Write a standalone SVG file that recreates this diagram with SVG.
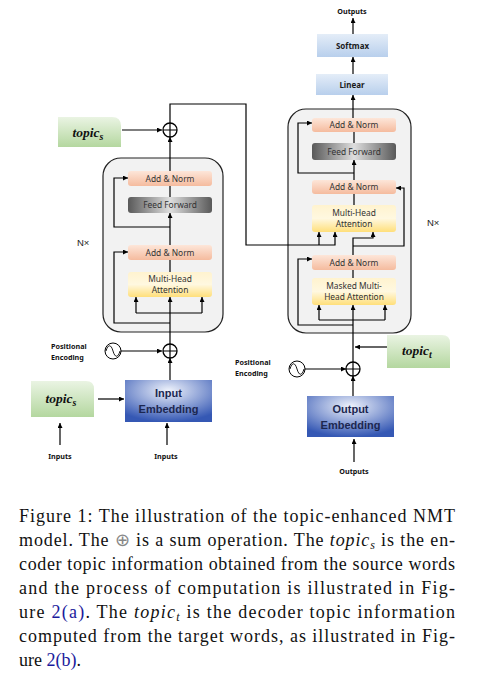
<svg xmlns="http://www.w3.org/2000/svg" width="480" height="682" viewBox="0 0 480 682">
<defs>
<style>
.ln{fill:none;stroke:#000;stroke-width:1.2}
.arr{fill:none;stroke:#000;stroke-width:1.2;marker-end:url(#ah)}
.box{fill:#f2f2f2;stroke:#222;stroke-width:1.2}
.t8{font-family:"Noto Sans","Liberation Sans",sans-serif;font-size:8.4px;fill:#333;text-anchor:middle}
.tb{font-family:"Noto Sans","Liberation Sans",sans-serif;font-size:7.2px;font-weight:bold;fill:#111}
.tl{font-family:"Noto Sans","Liberation Sans",sans-serif;font-size:8px;font-weight:bold;fill:#1a1a1a;text-anchor:middle}
.emb{font-family:"Liberation Sans",sans-serif;font-size:11px;font-weight:bold;fill:#1c2750;text-anchor:middle}
.top{font-family:"Liberation Serif",serif;font-size:13.5px;font-weight:bold;font-style:italic;fill:#111;text-anchor:middle}
.nx{font-family:"Liberation Sans",sans-serif;font-size:9.5px;fill:#222}
.cap{font-family:"Liberation Serif",serif;font-size:18px;fill:#111}
.lnk{fill:#1a1a9c}
.plus{fill:#fff;stroke:#000;stroke-width:1.3}
</style>
<marker id="ah" viewBox="0 0 6 6" refX="6" refY="3" markerWidth="5" markerHeight="5" markerUnits="userSpaceOnUse" orient="auto"><path d="M0,0 L6,3 L0,6 z" fill="#000"/></marker>
<linearGradient id="gAN" x1="0" y1="0" x2="0" y2="1"><stop offset="0" stop-color="#fde6d9"/><stop offset="1" stop-color="#f5bb9e"/></linearGradient>
<linearGradient id="gFF" x1="0" y1="0" x2="1" y2="0"><stop offset="0" stop-color="#595959"/><stop offset="0.5" stop-color="#dedede"/><stop offset="1" stop-color="#595959"/></linearGradient>
<linearGradient id="gMH" x1="0" y1="0" x2="0" y2="1"><stop offset="0" stop-color="#fff3cf"/><stop offset="0.5" stop-color="#fff8e0"/><stop offset="1" stop-color="#ffdf7a"/></linearGradient>
<linearGradient id="gLS" x1="0" y1="0" x2="0" y2="1"><stop offset="0" stop-color="#e4edf8"/><stop offset="1" stop-color="#b8cfec"/></linearGradient>
<linearGradient id="gTP" x1="0" y1="0" x2="0" y2="1"><stop offset="0" stop-color="#eaf4e3"/><stop offset="1" stop-color="#b4d79f"/></linearGradient>
<radialGradient id="gEM" cx="0.5" cy="0.25" r="0.75"><stop offset="0" stop-color="#eef2fb"/><stop offset="1" stop-color="#3558b4"/></radialGradient>
</defs>
<rect width="480" height="682" fill="#fff"/>

<g id="encoder">
<rect class="box" x="103" y="158" width="120" height="174" rx="18"/>
<text class="nx" x="77" y="246">N×</text>
</g>
<g id="decoder">
<rect class="box" x="288" y="109" width="123" height="224" rx="18"/>
<text class="nx" x="427" y="226">N×</text>
</g>

<g id="connectors">
<line class="arr" x1="170" y1="344" x2="170" y2="297"/>
<polyline class="ln" points="136,313 202,313"/>
<line class="arr" x1="136" y1="313" x2="136" y2="297"/>
<line class="arr" x1="202" y1="313" x2="202" y2="297"/>
<polyline class="arr" points="170,323 114,323 114,252 128,252"/>
<line class="ln" x1="170" y1="272" x2="170" y2="260"/>
<line class="arr" x1="170" y1="245" x2="170" y2="213"/>
<polyline class="arr" points="170,227 114,227 114,178 128,178"/>
<line class="ln" x1="170" y1="197" x2="170" y2="186"/>
<line class="arr" x1="170" y1="171" x2="170" y2="137"/>
<line class="arr" x1="122" y1="130" x2="162" y2="130"/>
<polyline class="arr" points="170,123 170,104 246,104 246,245 335,245 335,232"/>
<line class="arr" x1="319" y1="245" x2="319" y2="232"/>
<line class="arr" x1="121" y1="351" x2="162" y2="351"/>
<line class="arr" x1="170" y1="380" x2="170" y2="358"/>
<line class="arr" x1="98" y1="399" x2="124" y2="399"/>
<line class="arr" x1="60" y1="445" x2="60" y2="423"/>
<line class="arr" x1="167" y1="445" x2="167" y2="423"/>
<line class="arr" x1="353" y1="362" x2="353" y2="305"/>
<polyline class="ln" points="319,320 385,320"/>
<line class="arr" x1="319" y1="320" x2="319" y2="305"/>
<line class="arr" x1="385" y1="320" x2="385" y2="305"/>
<polyline class="arr" points="353,325 298,325 298,259 312,259"/>
<line class="ln" x1="353" y1="278" x2="353" y2="270"/>
<polyline class="arr" points="353,255 353,238 373,238 373,232"/>
<polyline class="arr" points="353,246 404,246 404,188 396,188"/>
<line class="ln" x1="354" y1="205" x2="354" y2="194"/>
<line class="arr" x1="354" y1="180" x2="354" y2="160"/>
<polyline class="arr" points="354,173 298,173 298,123 312,123"/>
<line class="ln" x1="354" y1="143" x2="354" y2="132"/>
<line class="arr" x1="353" y1="118" x2="353" y2="95"/>
<line class="arr" x1="353" y1="74" x2="353" y2="57"/>
<line class="arr" x1="353" y1="34" x2="353" y2="18"/>
<line class="arr" x1="387" y1="347" x2="355" y2="347"/>
<line class="arr" x1="305" y1="369" x2="346" y2="369"/>
<line class="arr" x1="353" y1="396" x2="353" y2="376"/>
<line class="arr" x1="354" y1="462" x2="354" y2="439"/>
</g>

<g id="enc-addnorm2"><rect x="128" y="171" width="84" height="15" rx="3" fill="url(#gAN)"/><text class="t8" x="170" y="181.5">Add &amp; Norm</text></g>
<g id="enc-ff"><rect x="128" y="197" width="84" height="16" rx="3" fill="url(#gFF)"/><text class="t8" x="170" y="208" fill="#222">Feed Forward</text></g>
<g id="enc-addnorm1"><rect x="128" y="245" width="84" height="15" rx="3" fill="url(#gAN)"/><text class="t8" x="170" y="255.5">Add &amp; Norm</text></g>
<g id="enc-mha"><rect x="128" y="272" width="84" height="25" rx="3" fill="url(#gMH)"/><text class="t8" x="170" y="282">Multi-Head</text><text class="t8" x="170" y="293">Attention</text></g>
<g id="enc-sum-top"><circle class="plus" cx="170" cy="130" r="7"/><path class="ln" d="M163,130 H177 M170,123 V137"/></g>
<g id="enc-topic-top"><path d="M58,117 H112 Q121,117 121,126 V147 H58 Z" fill="url(#gTP)"/><text class="top" x="88" y="137">topic<tspan font-size="10" dy="3">s</tspan></text></g>
<g id="enc-sum"><circle class="plus" cx="170" cy="351" r="7"/><path class="ln" d="M163,351 H177 M170,344 V358"/></g>
<g id="enc-pe"><circle cx="113" cy="351" r="8" fill="#fff" stroke="#000" stroke-width="1"/><path d="M106,351 C108,344 111,344 113,351 C115,358 118,358 120,351" fill="none" stroke="#000" stroke-width="0.9"/><text class="tb" x="51" y="349">Positional</text><text class="tb" x="51" y="360">Encoding</text></g>
<g id="enc-emb"><rect x="125" y="380" width="87" height="42" fill="url(#gEM)"/><text class="emb" x="168.5" y="397">Input</text><text class="emb" x="168.5" y="413">Embedding</text></g>
<g id="enc-topic"><path d="M31,381 H86 Q94,381 94,389 V417 H31 Z" fill="url(#gTP)"/><text class="top" x="61" y="403">topic<tspan font-size="10" dy="3">s</tspan></text></g>
<g id="enc-inputs1"><text class="tb" x="60" y="459" text-anchor="middle">Inputs</text></g>
<g id="enc-inputs2"><text class="tb" x="166" y="459" text-anchor="middle">Inputs</text></g>

<g id="dec-outputs"><text class="tb" x="352" y="14" text-anchor="middle">Outputs</text></g>
<g id="softmax"><rect x="317" y="34" width="71" height="23" fill="url(#gLS)"/><text class="tl" x="352.5" y="48.5">Softmax</text></g>
<g id="linear"><rect x="316" y="74" width="72" height="21" fill="url(#gLS)"/><text class="tl" x="352" y="87.5">Linear</text></g>
<g id="dec-addnorm3"><rect x="312" y="118" width="84" height="14" rx="3" fill="url(#gAN)"/><text class="t8" x="354" y="128">Add &amp; Norm</text></g>
<g id="dec-ff"><rect x="312" y="143" width="84" height="17" rx="3" fill="url(#gFF)"/><text class="t8" x="354" y="154.5" fill="#222">Feed Forward</text></g>
<g id="dec-addnorm2"><rect x="312" y="180" width="84" height="14" rx="3" fill="url(#gAN)"/><text class="t8" x="354" y="190">Add &amp; Norm</text></g>
<g id="dec-mha"><rect x="312" y="205" width="84" height="27" rx="3" fill="url(#gMH)"/><text class="t8" x="354" y="215.5">Multi-Head</text><text class="t8" x="354" y="227">Attention</text></g>
<g id="dec-addnorm1"><rect x="312" y="255" width="84" height="15" rx="3" fill="url(#gAN)"/><text class="t8" x="354" y="265.5">Add &amp; Norm</text></g>
<g id="dec-mmha"><rect x="312" y="278" width="84" height="27" rx="3" fill="url(#gMH)"/><text class="t8" x="354" y="288.5">Masked Multi-</text><text class="t8" x="354" y="300">Head Attention</text></g>
<g id="dec-topic"><path d="M387,335 H442 Q450,335 450,343 V368 H387 Z" fill="url(#gTP)"/><text class="top" x="417" y="355">topic<tspan font-size="10" dy="3">t</tspan></text></g>
<g id="dec-sum"><circle class="plus" cx="353" cy="369" r="7"/><path class="ln" d="M346,369 H360 M353,362 V376"/></g>
<g id="dec-pe"><circle cx="297" cy="369" r="8" fill="#fff" stroke="#000" stroke-width="1"/><path d="M290,369 C292,362 295,362 297,369 C299,376 302,376 304,369" fill="none" stroke="#000" stroke-width="0.9"/><text class="tb" x="235" y="365">Positional</text><text class="tb" x="235" y="376">Encoding</text></g>
<g id="dec-emb"><rect x="307" y="396" width="87" height="41" fill="url(#gEM)"/><text class="emb" x="350.5" y="412.5">Output</text><text class="emb" x="350.5" y="429">Embedding</text></g>
<g id="dec-outputs-in"><text class="tb" x="354" y="474" text-anchor="middle">Outputs</text></g>

<g id="caption">
<text class="cap" x="19" y="522" textLength="436">Figure 1: The illustration of the topic-enhanced NMT</text>
<text class="cap" x="19" y="546" textLength="436">model. The <tspan fill="#888">⊕</tspan> is a sum operation. The <tspan font-style="italic">topic</tspan><tspan font-style="italic" font-size="12" dy="3">s</tspan><tspan dy="-3"> is the en-</tspan></text>
<text class="cap" x="19" y="570" textLength="436">coder topic information obtained from the source words</text>
<text class="cap" x="19" y="594" textLength="436">and the process of computation is illustrated in Fig-</text>
<text class="cap" x="19" y="618" textLength="436">ure <tspan class="lnk">2(a)</tspan>. The <tspan font-style="italic">topic</tspan><tspan font-style="italic" font-size="12" dy="3">t</tspan><tspan dy="-3"> is the decoder topic information</tspan></text>
<text class="cap" x="19" y="642" textLength="436">computed from the target words, as illustrated in Fig-</text>
<text class="cap" x="19" y="666">ure <tspan class="lnk">2(b)</tspan>.</text>
</g>
</svg>
